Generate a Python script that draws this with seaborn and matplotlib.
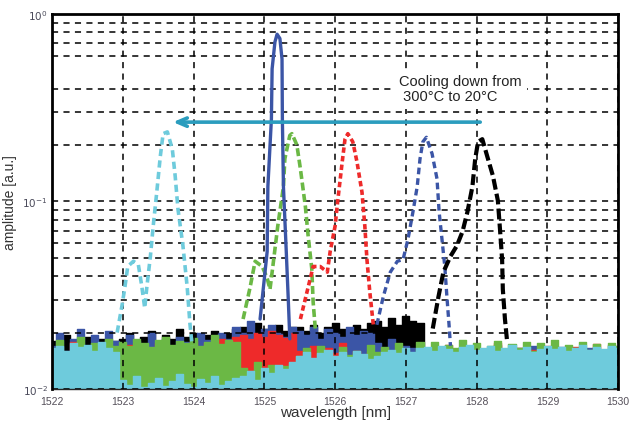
import numpy as np
import pandas as pd
import matplotlib
matplotlib.use("Agg")
import matplotlib.pyplot as plt
import seaborn as sns
from matplotlib.ticker import FixedLocator, NullFormatter

sns.set_style("white")
plt.rcParams['font.family'] = ['Liberation Sans', 'DejaVu Sans']

# ---------------- data ----------------
x_ticks = [1522, 1523, 1524, 1525, 1526, 1527, 1528, 1529, 1530]
x_tick_labels = ["1522", "1523", "1524", "1525", "1526", "1527", "1528", "1529", "1530"]
y_ticks = [0.01, 0.1, 1.0]
y_tick_labels = [r"$10^{-2}$", r"$10^{-1}$", r"$10^{0}$"]
y_minor_grid = [0.02, 0.03, 0.04, 0.05, 0.06, 0.07, 0.08, 0.09,
                0.2, 0.3, 0.4, 0.6, 0.7, 0.8, 0.9]

# noise floor grid (nm)
floor_wl = [round(1522 + 0.1 * i, 1) for i in range(81)]

floor_cyan = [0.0165, 0.017, 0.016, 0.0175, 0.0168, 0.0172, 0.016, 0.0178, 0.0166, 0.0158,
              0.0112, 0.0105, 0.0118, 0.0102, 0.0108, 0.0115, 0.0104, 0.0110, 0.0120, 0.0106,
              0.0103, 0.0113, 0.0108, 0.0117, 0.0105, 0.0110, 0.0114,
              0.0118, 0.0125, 0.0112, 0.0130, 0.0122, 0.0135, 0.0128, 0.0140,
              0.0150, 0.0158, 0.0146, 0.0155, 0.0162, 0.0150, 0.0157, 0.0148, 0.0160, 0.0153, 0.0145,
              0.0150, 0.0158, 0.0162, 0.0155, 0.0165, 0.0158, 0.0166,
              0.0168, 0.0160, 0.0170, 0.0163, 0.0158, 0.0167, 0.0172, 0.0161, 0.0165, 0.0169,
              0.0160, 0.0166, 0.0171, 0.0162, 0.0167, 0.0158, 0.0164, 0.0170, 0.0163, 0.0168,
              0.0160, 0.0166, 0.0172, 0.0161, 0.0167, 0.0163, 0.0169, 0.0165]
floor_green = [0.0150, 0.0182, 0.0140, 0.0160, 0.0190, 0.0145, 0.0175, 0.0155, 0.0185, 0.0170,
               0.0178, 0.0170, 0.0185, 0.0175, 0.0168, 0.0182, 0.0190, 0.0172, 0.0180, 0.0176,
               0.0186, 0.0170, 0.0179, 0.0195, 0.0174, 0.0183, 0.0177,
               0.0130, 0.0125, 0.0140, 0.0120, 0.0135, 0.0128, 0.0132, 0.0138,
               0.0150, 0.0165, 0.0142, 0.0170, 0.0155, 0.0148, 0.0168, 0.0152, 0.0160, 0.0145, 0.0172,
               0.0158, 0.0168, 0.0150, 0.0175, 0.0162, 0.0155, 0.0178,
               0.0160, 0.0178, 0.0155, 0.0172, 0.0165, 0.0182, 0.0158, 0.0175, 0.0162, 0.0170,
               0.0180, 0.0157, 0.0173, 0.0166, 0.0179, 0.0160, 0.0176, 0.0168, 0.0182, 0.0158,
               0.0171, 0.0165, 0.0178, 0.0162, 0.0174, 0.0160, 0.0176, 0.0170]
floor_red = [0.0140, 0.0160, 0.0135, 0.0178, 0.0150, 0.0145, 0.0170, 0.0138, 0.0165, 0.0150,
             0.0160, 0.0172, 0.0155, 0.0168, 0.0150, 0.0175, 0.0162, 0.0158, 0.0170, 0.0165,
             0.0180, 0.0160, 0.0175, 0.0168, 0.0185, 0.0178, 0.0190,
             0.0195, 0.0185, 0.0200, 0.0190, 0.0205, 0.0195, 0.0188, 0.0200,
             0.0160, 0.0150, 0.0170, 0.0145, 0.0165, 0.0155, 0.0175, 0.0150, 0.0160, 0.0148, 0.0158,
             0.0150, 0.0145, 0.0160, 0.0140, 0.0155, 0.0148, 0.0150,
             0.0150, 0.0165, 0.0145, 0.0172, 0.0152, 0.0148, 0.0168, 0.0155, 0.0160, 0.0145,
             0.0175, 0.0150, 0.0158, 0.0166, 0.0148, 0.0162, 0.0155, 0.0170, 0.0150, 0.0158,
             0.0145, 0.0168, 0.0152, 0.0160, 0.0174, 0.0150, 0.0162, 0.0155]
floor_navy = [0.0170, 0.0200, 0.0160, 0.0185, 0.0210, 0.0165, 0.0195, 0.0175, 0.0205, 0.0180,
              0.0170, 0.0195, 0.0180, 0.0165, 0.0200, 0.0175, 0.0185, 0.0160, 0.0190, 0.0178,
              0.0170, 0.0198, 0.0182, 0.0175, 0.0200, 0.0185, 0.0215,
              0.0200, 0.0230, 0.0195, 0.0210, 0.0220, 0.0200, 0.0190, 0.0215,
              0.0205, 0.0195, 0.0215, 0.0185, 0.0210, 0.0200, 0.0190, 0.0215, 0.0195, 0.0205, 0.0200,
              0.0175, 0.0165, 0.0185, 0.0160, 0.0170, 0.0165, 0.0160,
              0.0150, 0.0158, 0.0165, 0.0150, 0.0160, 0.0168, 0.0155, 0.0162, 0.0150, 0.0158,
              0.0172, 0.0150, 0.0160, 0.0165, 0.0152, 0.0170, 0.0158, 0.0150, 0.0162, 0.0168,
              0.0155, 0.0160, 0.0150, 0.0166, 0.0158, 0.0150, 0.0172, 0.0160]
floor_black = [0.0180, 0.0165, 0.0195, 0.0175, 0.0160, 0.0190, 0.0170, 0.0185, 0.0165, 0.0180,
               0.0185, 0.0200, 0.0175, 0.0190, 0.0205, 0.0180, 0.0195, 0.0185, 0.0210, 0.0190,
               0.0200, 0.0185, 0.0195, 0.0205, 0.0190, 0.0200, 0.0210,
               0.0215, 0.0200, 0.0225, 0.0210, 0.0195, 0.0220, 0.0205, 0.0215,
               0.0215, 0.0205, 0.0220, 0.0200, 0.0215, 0.0225, 0.0210, 0.0200, 0.0220, 0.0210, 0.0225,
               0.0230, 0.0215, 0.0240, 0.0220, 0.0245, 0.0230, 0.0225,
               0.0150, 0.0140, 0.0155, 0.0145, 0.0160, 0.0138, 0.0150, 0.0142, 0.0155, 0.0148,
               0.0140, 0.0152, 0.0145, 0.0158, 0.0140, 0.0150, 0.0145, 0.0155, 0.0140, 0.0148,
               0.0152, 0.0142, 0.0156, 0.0145, 0.0150, 0.0140, 0.0153, 0.0147]

# reflection peaks
cyan_wl = [1522.92, 1522.99, 1523.03, 1523.07, 1523.15, 1523.22, 1523.27, 1523.31, 1523.34,
           1523.39, 1523.43, 1523.48, 1523.53, 1523.57, 1523.63, 1523.70, 1523.74, 1523.78,
           1523.85, 1523.91, 1523.95, 1523.98]
cyan_amp = [0.020, 0.028, 0.035, 0.045, 0.048, 0.046, 0.035, 0.027, 0.035,
            0.051, 0.074, 0.112, 0.174, 0.23, 0.235, 0.19, 0.137, 0.091,
            0.058, 0.035, 0.022, 0.017]

blue_wl = [1524.94, 1525.04, 1525.05, 1525.10, 1525.11, 1525.15, 1525.18, 1525.22, 1525.25,
           1525.255, 1525.27, 1525.31, 1525.34, 1525.36]
blue_amp = [0.0236, 0.054, 0.12, 0.275, 0.51, 0.71, 0.78, 0.74, 0.575,
            0.275, 0.12, 0.054, 0.029, 0.0185]

green_wl = [1524.70, 1524.80, 1524.87, 1524.97, 1525.04, 1525.08, 1525.12, 1525.19, 1525.27,
            1525.29, 1525.36, 1525.39, 1525.46, 1525.51, 1525.58, 1525.62, 1525.67, 1525.69, 1525.72]
green_amp = [0.0236, 0.035, 0.048, 0.045, 0.039, 0.034, 0.045, 0.074, 0.12,
             0.169, 0.225, 0.23, 0.20, 0.149, 0.094, 0.065, 0.044, 0.029, 0.021]

red_wl = [1525.51, 1525.62, 1525.69, 1525.79, 1525.89, 1525.93, 1526.00, 1526.04, 1526.10,
          1526.14, 1526.18, 1526.25, 1526.31, 1526.38, 1526.42, 1526.45, 1526.49, 1526.54]
red_amp = [0.0236, 0.035, 0.045, 0.045, 0.042, 0.054, 0.074, 0.103, 0.162,
           0.215, 0.23, 0.208, 0.162, 0.112, 0.074, 0.049, 0.033, 0.022]

navy_wl = [1526.59, 1526.68, 1526.78, 1526.88, 1526.96, 1527.03, 1527.10, 1527.16, 1527.20,
           1527.24, 1527.29, 1527.37, 1527.44, 1527.47, 1527.51, 1527.55, 1527.58, 1527.61, 1527.63]
navy_amp = [0.022, 0.031, 0.042, 0.048, 0.049, 0.063, 0.088, 0.12, 0.169,
            0.208, 0.22, 0.18, 0.132, 0.088, 0.063, 0.045, 0.031, 0.022, 0.017]

black_wl = [1527.38, 1527.46, 1527.53, 1527.63, 1527.72, 1527.80, 1527.87, 1527.94, 1527.98,
            1528.02, 1528.08, 1528.15, 1528.23, 1528.30, 1528.33, 1528.36, 1528.37, 1528.40, 1528.43]
black_amp = [0.021, 0.031, 0.042, 0.051, 0.058, 0.069, 0.088, 0.12, 0.169,
             0.208, 0.215, 0.174, 0.137, 0.101, 0.071, 0.049, 0.034, 0.0236, 0.018]

arrow_from = (1528.09, 0.265)
arrow_to = (1523.67, 0.265)
note_pos = (1526.90, 0.40)
note_text = "Cooling down from\n 300\u00b0C to 20\u00b0C"

# ---------------- style ----------------
C_CYAN = "#6ECBDC"
C_GREEN = "#6BB845"
C_RED = "#EE2A2A"
C_NAVY = "#3B55A6"
C_BLACK = "#000000"
C_ARROW = "#2B9DBE"

fig = plt.figure(figsize=(6.29, 4.27), dpi=100)
ax = fig.add_axes([0.0827, 0.0867, 0.9001, 0.8782])
ax.set_yscale("log")
ax.set_xlim(1522, 1530)
ax.set_ylim(0.01, 1.0)

# noise floors (back to front)
for floor, col in [(floor_black, C_BLACK), (floor_navy, C_NAVY), (floor_red, C_RED),
                   (floor_green, C_GREEN), (floor_cyan, C_CYAN)]:
    ax.fill_between(floor_wl, 0.001, floor, step="mid", color=col, lw=0, zorder=2)
    ax.step(floor_wl, floor, where="mid", color=col, lw=1.0, zorder=2)

peaks = pd.DataFrame({
    "wl": cyan_wl + green_wl + red_wl + navy_wl + black_wl,
    "amp": cyan_amp + green_amp + red_amp + navy_amp + black_amp,
    "series": (["cyan"] * len(cyan_wl) + ["green"] * len(green_wl) + ["red"] * len(red_wl)
               + ["navy"] * len(navy_wl) + ["black"] * len(black_wl)),
})
styles = {"cyan": (C_CYAN, (2.0, 1.2), 2.6), "green": (C_GREEN, (2.2, 1.0), 2.6),
          "red": (C_RED, (1.5, 0.9), 2.6), "navy": (C_NAVY, (2.0, 1.2), 2.4),
          "black": (C_BLACK, (2.6, 1.0), 3.0)}
for name, (col, dash, lw) in styles.items():
    sub = peaks[peaks["series"] == name]
    l = sns.lineplot(data=sub, x="wl", y="amp", ax=ax, color=col, lw=lw, sort=False,
                     estimator=None, legend=False, zorder=4)
    l.get_lines()[-1].set_dashes(dash)

blue_df = pd.DataFrame({"wl": blue_wl, "amp": blue_amp})
sns.lineplot(data=blue_df, x="wl", y="amp", ax=ax, color=C_NAVY, lw=2.4, sort=False,
             estimator=None, legend=False, zorder=5)

# arrow and note
ax.annotate("", xy=arrow_to, xytext=arrow_from,
            arrowprops=dict(arrowstyle="->,head_length=0.7,head_width=0.3",
                            color=C_ARROW, lw=2.6), zorder=6)
ax.text(note_pos[0], note_pos[1], note_text, fontsize=10.5, color="#222222",
        ha="left", va="center", linespacing=1.1, zorder=6,
        bbox=dict(facecolor="white", edgecolor="none", pad=4))

# grid
ax.xaxis.set_major_locator(FixedLocator(x_ticks))
ax.set_xticklabels(x_tick_labels)
ax.yaxis.set_major_locator(FixedLocator(y_ticks))
ax.set_yticklabels(y_tick_labels)
ax.yaxis.set_minor_locator(FixedLocator(y_minor_grid))
ax.yaxis.set_minor_formatter(NullFormatter())
gkw = dict(color="black", linestyle=(0, (4, 3.5)), lw=1.1)
ax.grid(True, which="major", axis="both", **gkw)
ax.grid(True, which="minor", axis="y", **gkw)
ax.set_axisbelow(False)
for gl in ax.get_xgridlines() + ax.get_ygridlines() + ax.yaxis.get_minorticklines():
    gl.set_zorder(3)

ax.tick_params(axis="both", which="both", length=0)
ax.tick_params(axis="x", labelsize=7.5, labelcolor="#55505a", pad=5)
ax.tick_params(axis="y", labelsize=7.5, labelcolor="#4a4a5a", pad=3)

for s in ["left", "top", "right"]:
    ax.spines[s].set_linewidth(2.0)
    ax.spines[s].set_color("black")
    ax.spines[s].set_zorder(7)
ax.spines["bottom"].set_linewidth(1.0)

ax.set_xlabel("wavelength [nm]", fontsize=11, color="#333333")
ax.xaxis.set_label_coords(0.5, -0.042)
ax.set_ylabel("amplitude [a.u.]", fontsize=10, color="#333333")
ax.yaxis.set_label_coords(-0.062, 0.5)

fig.savefig("out.png", dpi=100)
